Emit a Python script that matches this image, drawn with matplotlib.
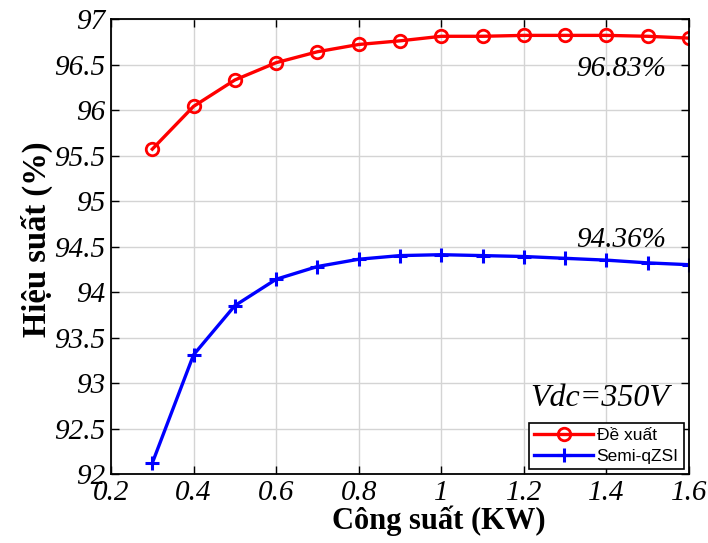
import matplotlib
matplotlib.use("Agg")
import matplotlib.pyplot as plt

# Données
puissance = [0.3, 0.4, 0.5, 0.6, 0.7, 0.8, 0.9, 1.0, 1.1, 1.2, 1.3, 1.4, 1.5, 1.6]
rendement_de_xuat = [95.57, 96.04, 96.33, 96.52, 96.64, 96.72, 96.76, 96.81,
                     96.81, 96.82, 96.82, 96.82, 96.81, 96.79]
rendement_semi_qzsi = [92.12, 93.31, 93.85, 94.14, 94.28, 94.36, 94.40, 94.41,
                       94.40, 94.39, 94.37, 94.35, 94.32, 94.30]

serif = ["Liberation Serif", "DejaVu Serif"]

fig = plt.figure(figsize=(7.08, 5.43), dpi=100)
ax = fig.add_axes([111 / 708, 1 - 474 / 543, 578 / 708, 455 / 543])

ax.plot(puissance, rendement_de_xuat, color="red", linewidth=2.4, marker="o",
        markersize=9, markerfacecolor="none", markeredgewidth=2, label="Đề xuất")
ax.plot(puissance, rendement_semi_qzsi, color="blue", linewidth=2.4, marker="+",
        markersize=10, markeredgewidth=2.2, label="Semi-qZSI")

ax.set_xlim(0.2, 1.6)
ax.set_ylim(92, 97)
ax.set_xticks([0.2, 0.4, 0.6, 0.8, 1.0, 1.2, 1.4, 1.6])
ax.set_xticklabels(["0.2", "0.4", "0.6", "0.8", "1", "1.2", "1.4", "1.6"])
ax.set_yticks([92, 92.5, 93, 93.5, 94, 94.5, 95, 95.5, 96, 96.5, 97])
ax.set_yticklabels(["92", "92.5", "93", "93.5", "94", "94.5", "95", "95.5",
                    "96", "96.5", "97"])
ax.tick_params(direction="in", top=True, right=True, length=6, width=1,
               labelsize=21, pad=4)
for lab in ax.get_xticklabels() + ax.get_yticklabels():
    lab.set_family(serif)
    lab.set_style("italic")

ax.grid(True, color="#d4d4d4", linewidth=1)
for s in ax.spines.values():
    s.set_linewidth(1.3)

ax.set_xlabel("Công suất (KW)", fontsize=22, fontweight="bold", family=serif, labelpad=0)
ax.xaxis.label.set_x(0.567)
ax.set_ylabel("Hiệu suất (%)", fontsize=23.5, fontweight="bold", family=serif, labelpad=1)
ax.yaxis.label.set_y(0.515)

ax.text(1.435, 96.45, "96.83%", fontsize=21, style="italic", family=serif,
        ha="center", va="center")
ax.text(1.435, 94.57, "94.36%", fontsize=21, style="italic", family=serif,
        ha="center", va="center")
ax.text(1.385, 92.83, "Vdc=350V", fontsize=23, style="italic", family=serif,
        ha="center", va="center")

leg = ax.legend(loc="lower right", prop={"family": "Liberation Sans", "size": 12.5},
                fancybox=False, framealpha=1, edgecolor="black", borderpad=0.3,
                handlelength=3.4, handletextpad=0.2, labelspacing=0.3,
                borderaxespad=0.3)
leg.get_frame().set_linewidth(1.2)

fig.savefig("out.png", dpi=100)
